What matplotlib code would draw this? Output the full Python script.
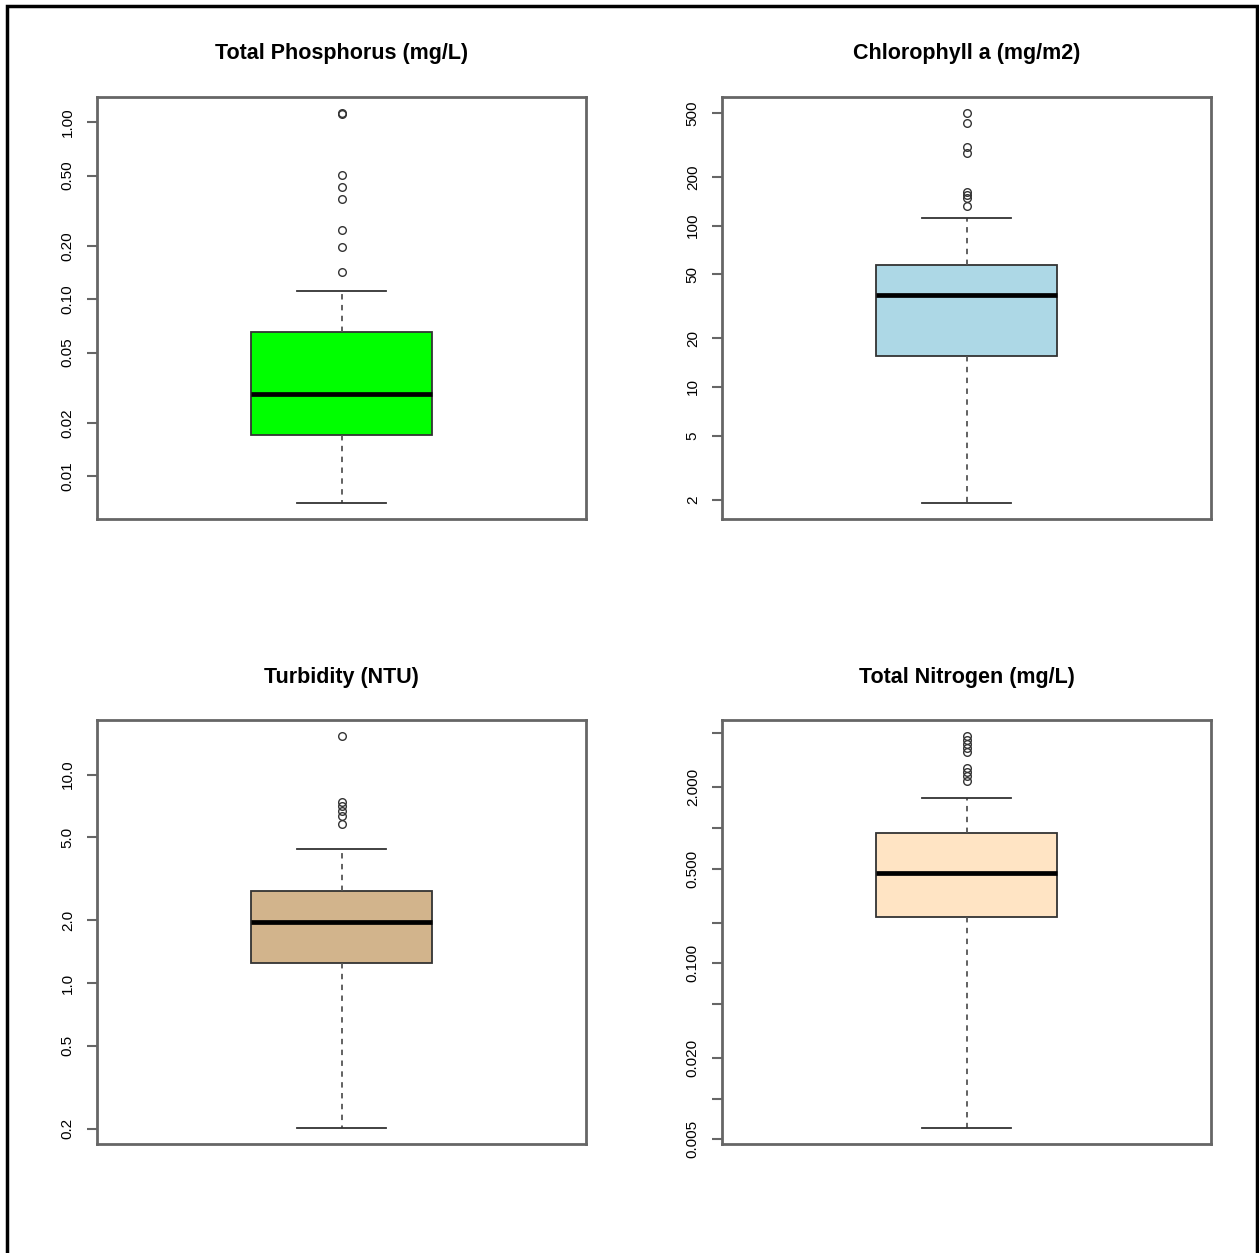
import matplotlib
matplotlib.use("Agg")
import matplotlib.pyplot as plt
from matplotlib.patches import Rectangle
import numpy as np

plt.rcParams['font.family'] = ['Liberation Sans', 'DejaVu Sans']

# --- data (whiskers, quartiles, median, outliers) ---
titles = ["Total Phosphorus (mg/L)", "Chlorophyll a (mg/m2)",
          "Turbidity (NTU)", "Total Nitrogen (mg/L)"]
colors = ["#00FF00", "#ADD8E6", "#D2B48C", "#FFE4C4"]

whislo = [0.00703, 1.90, 0.201, 0.00604]
q1 = [0.01706, 15.6, 1.253, 0.2188]
med = [0.0292, 37.3, 1.967, 0.4624]
q3 = [0.0653, 57.0, 2.77, 0.913]
whishi = [0.1115, 112.0, 4.40, 1.666]

tp_out = [1.134, 1.11, 0.501, 0.4285, 0.370, 0.247, 0.197, 0.142]
chl_out = [501, 430, 309, 281, 162, 155, 147.5, 132.4]
turb_out = [15.35, 7.39, 7.07, 6.68, 6.32, 5.77]
tn_out = [4.81, 4.47, 4.18, 3.90, 3.62, 2.77, 2.58, 2.41, 2.24]
outliers = [tp_out, chl_out, turb_out, tn_out]

ticks = [
    [1.0, 0.5, 0.2, 0.1, 0.05, 0.02, 0.01],
    [500, 200, 100, 50, 20, 10, 5, 2],
    [10.0, 5.0, 2.0, 1.0, 0.5, 0.2],
    [5, 2, 1, 0.5, 0.2, 0.1, 0.05, 0.02, 0.01, 0.005],
]
tick_labels = [
    ["1.00", "0.50", "0.20", "0.10", "0.05", "0.02", "0.01"],
    ["500", "200", "100", "50", "20", "10", "5", "2"],
    ["10.0", "5.0", "2.0", "1.0", "0.5", "0.2"],
    ["", "2.000", "", "0.500", "", "0.100", "", "0.020", "", "0.005"],
]

W, H = 1259, 1253
fig = plt.figure(figsize=(W / 100, H / 100), dpi=100)

# axes boxes in pixels: left, top, right, bottom
boxes = [(97, 97, 586, 519), (722, 97, 1211, 519),
         (97, 720, 586, 1144), (722, 720, 1211, 1144)]

frame_col = "#666666"

for i in range(4):
    l, t, r, b = boxes[i]
    ax = fig.add_axes([l / W, 1 - b / H, (r - l) / W, (b - t) / H])
    stats = [dict(med=med[i], q1=q1[i], q3=q3[i], whislo=whislo[i],
                  whishi=whishi[i], fliers=outliers[i])]
    ax.bxp(stats, positions=[1], widths=0.372, patch_artist=True,
           boxprops=dict(facecolor=colors[i], edgecolor="#333333", linewidth=1.3),
           medianprops=dict(color="black", linewidth=3.4, solid_capstyle="butt"),
           whiskerprops=dict(color="#555555", linestyle=(0, (3, 3)), linewidth=1.3),
           capprops=dict(color="#333333", linewidth=1.3),
           capwidths=0.182,
           flierprops=dict(marker="o", markerfacecolor="none",
                           markeredgecolor="#333333", markersize=5.5,
                           markeredgewidth=1.0))
    ax.set_yscale("log")
    lo = np.log10(min(whislo[i], min(outliers[i])))
    hi = np.log10(max(whishi[i], max(outliers[i])))
    pad = 0.04 * (hi - lo)
    ax.set_ylim(10 ** (lo - pad), 10 ** (hi + pad))
    ax.set_xlim(0.5, 1.5)
    ax.set_xticks([])
    ax.yaxis.set_minor_locator(matplotlib.ticker.NullLocator())
    ax.set_yticks(ticks[i])
    ax.set_yticklabels(tick_labels[i], rotation=90, va="center", fontsize=11)
    ax.tick_params(axis="y", length=7, width=1.5, color=frame_col, pad=9)
    for sp in ax.spines.values():
        sp.set_color(frame_col)
        sp.set_linewidth(2.0)
    ax.set_title(titles[i], fontsize=15.5, fontweight="bold", pad=27)

# outer border of the image
fig.patches.append(Rectangle((7 / W, -0.01), (1257 - 7) / W, 1 - 6 / H + 0.01,
                             transform=fig.transFigure, fill=False,
                             edgecolor="black", linewidth=2.5))

fig.savefig("out.png", dpi=100)
